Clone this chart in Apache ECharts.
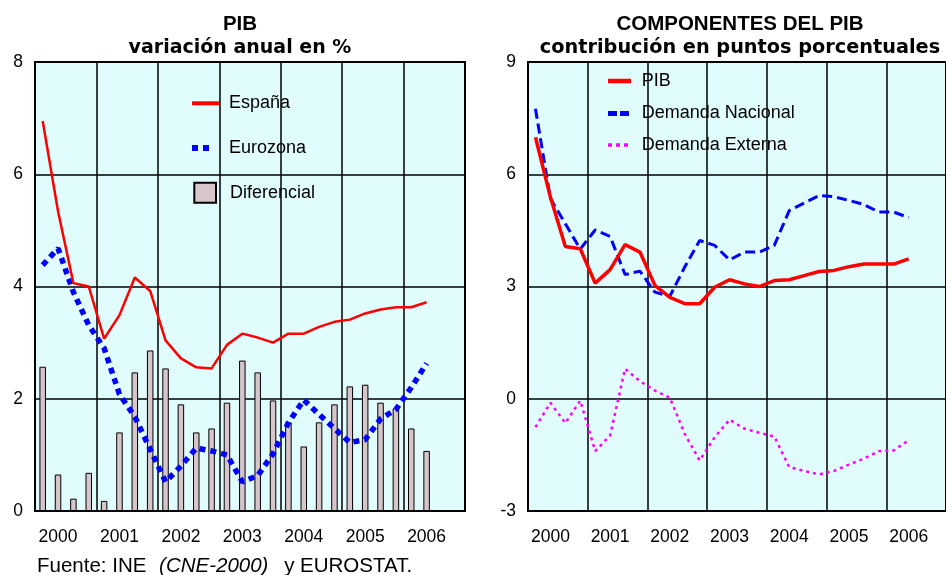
<!DOCTYPE html>
<html>
<head>
<meta charset="utf-8">
<script src="https://cdn.jsdelivr.net/npm/echarts@6/dist/echarts.min.js"></script>
<style>html,body{margin:0;padding:0;background:#fff}#c{width:946px;height:575px}</style>
</head>
<body>
<div id="c"></div>
<script>
// ---- data ----
const years = ['2000', '2001', '2002', '2003', '2004', '2005', '2006'];
const quarterNames = ['I', 'II', 'III', 'IV'];
const yTicksLeft = [0, 2, 4, 6, 8];
const yTicksRight = [-3, 0, 3, 6, 9];

const espana = [6.95, 5.34, 4.06, 4.0, 3.07, 3.49, 4.16, 3.92, 3.04, 2.72, 2.56, 2.54, 2.96, 3.16, 3.09, 3.0, 3.16, 3.16, 3.28, 3.37, 3.41, 3.52, 3.59, 3.63, 3.63, 3.72];
const eurozona = [4.38, 4.68, 3.9, 3.31, 2.9, 2.08, 1.68, 1.1, 0.52, 0.8, 1.12, 1.07, 1.0, 0.52, 0.63, 1.02, 1.57, 1.98, 1.72, 1.47, 1.22, 1.27, 1.64, 1.81, 2.2, 2.63];
const diferencial = [2.57, 0.65, 0.22, 0.68, 0.18, 1.40, 2.47, 2.86, 2.54, 1.90, 1.40, 1.47, 1.93, 2.68, 2.47, 1.97, 1.58, 1.15, 1.58, 1.90, 2.22, 2.25, 1.93, 1.83, 1.47, 1.07];

const pib = [6.99, 5.39, 4.07, 4.01, 3.09, 3.45, 4.12, 3.92, 3.03, 2.71, 2.54, 2.54, 2.98, 3.18, 3.07, 3.0, 3.16, 3.18, 3.29, 3.4, 3.43, 3.53, 3.6, 3.6, 3.6, 3.74];
const demandaNacional = [7.75, 5.35, 4.68, 4.0, 4.51, 4.34, 3.32, 3.41, 2.85, 2.74, 3.52, 4.23, 4.1, 3.71, 3.92, 3.92, 4.1, 5.03, 5.23, 5.43, 5.4, 5.3, 5.19, 4.99, 4.99, 4.84];
const demandaExterna = [-0.76, -0.11, -0.65, -0.05, -1.40, -0.98, 0.80, 0.47, 0.22, 0.03, -0.94, -1.65, -1.03, -0.56, -0.8, -0.91, -1.01, -1.83, -1.93, -2.02, -1.93, -1.76, -1.6, -1.4, -1.38, -1.11];

const categories = [];
years.forEach(y => quarterNames.forEach(q => categories.push(y + ' ' + q)));

// ---- styling ----
const FONT = 'Liberation Sans, Arial, sans-serif';
const BG = '#E0FCFC';

function xAxisFor(gridIndex) {
  return {
    type: 'category', gridIndex, data: categories, boundaryGap: true,
    axisLine: { show: false }, axisTick: { show: false },
    axisLabel: {
      interval: (i) => i % 4 === 1,
      formatter: (v) => v.slice(0, 4),
      fontSize: 17.5, color: '#000', fontFamily: FONT, margin: 17
    },
    splitLine: { show: true, interval: 3, lineStyle: { color: '#000', width: 1.5 } }
  };
}
function yAxisFor(gridIndex, ticks) {
  return {
    type: 'value', gridIndex,
    min: ticks[0], max: ticks[ticks.length - 1], interval: ticks[1] - ticks[0],
    axisLine: { show: false }, axisTick: { show: false },
    axisLabel: { fontSize: 17.5, color: '#000', fontFamily: FONT, margin: 12 },
    splitLine: { show: true, lineStyle: { color: '#000', width: 1.5 } }
  };
}
function legendItem(name, left, top, w, h, icon, pad, itemStyle) {
  return {
    data: [{ name, icon }], left, top, padding: 0, orient: 'vertical',
    itemWidth: w, itemHeight: h, selectedMode: false,
    itemStyle: itemStyle || { borderWidth: 0 },
    textStyle: { fontSize: 18, color: '#000', fontFamily: FONT, padding: [0, 0, 0, pad] }
  };
}

const chart = echarts.init(document.getElementById('c'), null, { renderer: 'canvas' });
chart.setOption({
  animation: false,
  backgroundColor: '#fff',
  title: [
    {
      text: 'PIB', subtext: 'variación anual en %', left: 240, top: 13, textAlign: 'center', padding: 0, itemGap: 2,
      textStyle: { fontSize: 20.5, fontWeight: 'bold', fontFamily: FONT, color: '#000', lineHeight: 22 },
      subtextStyle: { fontSize: 19, fontWeight: 'bold', fontFamily: 'DejaVu Sans', color: '#000', lineHeight: 22 }
    },
    {
      text: 'COMPONENTES DEL PIB', subtext: 'contribución en puntos porcentuales', left: 740, top: 13, textAlign: 'center', padding: 0, itemGap: 2,
      textStyle: { fontSize: 20.5, fontWeight: 'bold', fontFamily: FONT, color: '#000', lineHeight: 22 },
      subtextStyle: { fontSize: 19.3, fontWeight: 'bold', fontFamily: 'DejaVu Sans', color: '#000', lineHeight: 22 }
    },
    {
      text: '{a|Fuente: INE }{b|(CNE-2000)}{a| y EUROSTAT.}', left: 37, top: 555, padding: 0,
      textStyle: {
        fontWeight: 'normal',
        rich: {
          a: { fontSize: 20.5, fontFamily: FONT, fontWeight: 'normal', color: '#000', lineHeight: 22 },
          b: { fontSize: 20.5, fontFamily: FONT, fontWeight: 'normal', color: '#000', fontStyle: 'italic', lineHeight: 22, padding: [0, 10, 0, 7] }
        }
      }
    }
  ],
  legend: [
    legendItem('España', 192, 94.3, 27, 4, 'rect', 5),
    legendItem('Eurozona', 192, 139, 17, 6, 'path://M0,0h6v6h-6zM11,0h6v6h-6z', 15),
    legendItem('Diferencial', 193.3, 181.7, 21.7, 20, 'rect', 9, { borderColor: '#000', borderWidth: 2 }),
    legendItem('PIB', 608, 72, 23, 4.5, 'rect', 5.7),
    legendItem('Demanda Nacional', 608, 104.5, 21, 5, 'path://M0,0h9v5h-9zM12,0h9v5h-9z', 7.7),
    legendItem('Demanda Externa', 608, 136, 20, 3.5, 'path://M0,0h4v3.5h-4zM8,0h4v3.5h-4zM16,0h4v3.5h-4z', 8.7)
  ],
  grid: [
    { left: 35, top: 62, width: 430, height: 449, show: true, backgroundColor: BG, borderColor: '#000', borderWidth: 2 },
    { left: 528, top: 62, width: 428, height: 449, show: true, backgroundColor: BG, borderColor: '#000', borderWidth: 2 }
  ],
  xAxis: [xAxisFor(0), xAxisFor(1)],
  yAxis: [yAxisFor(0, yTicksLeft), yAxisFor(1, yTicksRight)],
  series: [
    {
      name: 'Diferencial', type: 'bar', xAxisIndex: 0, yAxisIndex: 0, data: diferencial, barWidth: 6.5,
      itemStyle: { color: '#D6C5CA', borderColor: '#000', borderWidth: 1 }, z: 2
    },
    {
      name: 'España', type: 'line', xAxisIndex: 0, yAxisIndex: 0, data: espana, symbol: 'none', color: '#FF0000',
      lineStyle: { color: '#FF0000', width: 2.5 }, itemStyle: { color: '#FF0000' }, z: 4
    },
    {
      name: 'Eurozona', type: 'line', xAxisIndex: 0, yAxisIndex: 0, data: eurozona, symbol: 'none', color: '#0000FF',
      lineStyle: { color: '#0000FF', width: 5.5, type: [6, 5], cap: 'butt' }, itemStyle: { color: '#0000FF' }, z: 3
    },
    {
      name: 'PIB', type: 'line', xAxisIndex: 1, yAxisIndex: 1, data: pib, symbol: 'none', color: '#FF0000',
      lineStyle: { color: '#FF0000', width: 3.5 }, itemStyle: { color: '#FF0000' }, z: 4
    },
    {
      name: 'Demanda Nacional', type: 'line', xAxisIndex: 1, yAxisIndex: 1, data: demandaNacional, symbol: 'none', color: '#0000FF',
      lineStyle: { color: '#0000FF', width: 3, type: [10, 5] }, itemStyle: { color: '#0000FF' }, z: 3
    },
    {
      name: 'Demanda Externa', type: 'line', xAxisIndex: 1, yAxisIndex: 1, data: demandaExterna, symbol: 'none', color: '#FF00FF',
      lineStyle: { color: '#FF00FF', width: 2.5, type: [3, 4] }, itemStyle: { color: '#FF00FF' }, z: 3
    }
  ]
});
</script>
</body>
</html>
